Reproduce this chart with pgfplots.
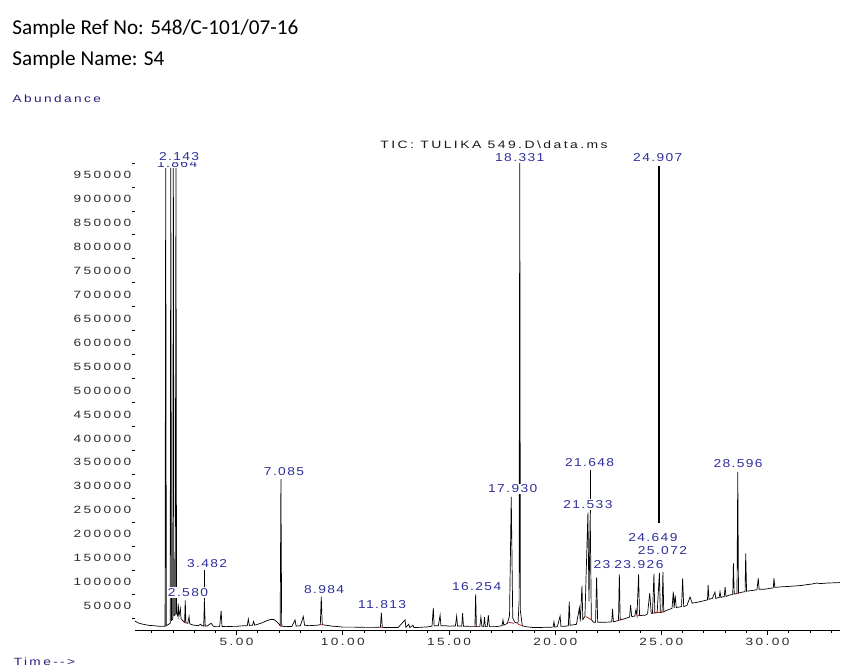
\documentclass[border=0pt]{standalone}
\usepackage{fontspec}
\usepackage{pgfplots}
\pgfplotsset{compat=1.18}
\setmainfont{Liberation Sans}
\newfontfamily\hdrfont{Carlito}
\newfontfamily\agfont[FakeStretch=1.3,LetterSpace=23]{Liberation Sans}
\newfontfamily\pkfont[FakeStretch=1.2,LetterSpace=12]{Liberation Sans}
\newcommand\tkf{\agfont\fontsize{5.25}{6}\selectfont}
\definecolor{pkblue}{RGB}{48,48,160}
\definecolor{axblue}{RGB}{45,30,120}
\definecolor{tkcol}{RGB}{50,40,40}
\definecolor{intred}{RGB}{190,30,30}
\tikzset{lbl/.style={font=\pkfont\fontsize{5.75}{6.5}\selectfont, text=pkblue, fill=white, inner sep=0.6pt}}
\begin{document}
\begin{tikzpicture}
\path[use as bounding box] (0,0) rectangle (420.5pt,333.5pt);
\node[anchor=base west, inner sep=0pt, font=\hdrfont\fontsize{10.6}{13}\selectfont] at (6pt,316.3pt) {Sample Ref No: 548/C-101/07-16};
\node[anchor=base west, inner sep=0pt, font=\hdrfont\fontsize{10.6}{13}\selectfont] at (6pt,300.6pt) {Sample Name: S4};
\node[anchor=base west, inner sep=0pt, font=\agfont\fontsize{5.25}{6}\selectfont, text=axblue] at (6.15pt,282.2pt) {Abundance};
\node[anchor=base west, inner sep=0pt, font=\agfont\fontsize{5.25}{6}\selectfont, text=axblue] at (6.7pt,0.6pt) {Time-{}-{}>};
\node[anchor=base, inner sep=0pt, font=\agfont\fontsize{5.35}{6}\selectfont, text=black!90] at (247pt,259.35pt) {TIC: TULIKA 549.D\textbackslash data.ms};
\begin{axis}[
  at={(67.35pt,18.5pt)}, anchor=south west,
  scale only axis, width=352.55pt, height=239.45pt,
  xmin=0.2, xmax=33.4, ymin=0, ymax=1000000,
  axis x line*=bottom, axis y line*=left,
  y axis line style={draw=none},
  x axis line style={line width=0.4pt},
  clip=false,
  tick align=outside,
  major tick length=2.5pt, minor tick length=1.5pt,
  every tick/.style={black, line width=0.4pt},
  major y tick style={draw=none},
  scaled y ticks=false, scaled x ticks=false,
  /pgf/number format/assume math mode=true,
  xtick={5,10,15,20,25,30},
  xticklabel={\tkf\pgfmathprintnumber[fixed,fixed zerofill,precision=2]{\tick}},
  minor xtick={1,2,3,4,6,7,8,9,11,12,13,14,16,17,18,19,21,22,23,24,26,27,28,29,31,32,33},
  ytick={50000,100000,150000,200000,250000,300000,350000,400000,450000,500000,550000,600000,650000,700000,750000,800000,850000,900000,950000},
  yticklabel={\tkf\pgfmathprintnumber[fixed,precision=0,1000 sep={}]{\tick}},
  minor ytick={25000,75000,125000,175000,225000,275000,325000,375000,425000,475000,525000,575000,625000,675000,725000,775000,825000,875000,925000,975000},
  every tick label/.append style={font=\tkf, text=tkcol},
  yticklabel style={inner sep=0pt, xshift=1pt},
  xticklabel style={inner sep=0pt, yshift=-1.5pt},
  unbounded coords=jump,
]
\addplot[black, line width=0.35pt] coordinates {
(0.20,19000)(0.35,15000)(0.5,13000)(0.7,11000)(0.9,9500)(1.1,9000)(1.3,8000)(1.5,7500)(1.6,7800)
(1.63,7800)(1.66,975000)(1.69,9000)(1.80,12000)(1.87,14000)(1.90,975000)(1.93,20000)(1.99,22000)
(2.02,975000)(2.05,30000)(2.11,32000)(2.143,975000)(2.17,35000)(2.22,30000)(2.25,55000)(2.28,28000)
(2.35,45000)(2.38,24000)(2.45,20000)(2.55,16000)(2.58,62000)(2.61,15000)(2.70,14000)(2.76,28000)
(2.79,13000)(2.9,11000)(3.0,10000)(3.2,9000)(3.3,12000)(3.35,9000)(3.45,8500)(3.482,62000)(3.52,8500)
(3.6,8000)(3.8,14000)(3.9,8000)(4.0,7000)(4.2,7000)(4.27,40000)(4.31,7500)(4.5,7000)(4.8,7500)(5.0,7500)
(5.2,8500)(5.4,9000)(5.5,9000)(5.55,23000)(5.6,9500)(5.75,10000)(5.8,18000)(5.85,10000)(6.0,12000)
(6.2,15000)(6.4,19000)(6.6,22000)(6.75,22000)(6.9,17000)(7.0,12000)(7.05,9000)(7.085,315000)(7.12,8000)
(7.3,7000)(7.6,7500)(7.75,21000)(7.8,8000)(8.0,9000)(8.14,28000)(8.2,10000)(8.4,9000)(8.6,9500)(8.8,10000)
(8.94,11000)(8.984,69500)(9.03,11000)(9.2,10000)(9.5,8000)(9.8,7000)(10.0,6000)(10.5,6000)(11.0,5500)
(11.5,5500)(11.77,6000)(11.813,36000)(11.86,5500)(12.2,5000)(12.6,5000)(12.93,21000)(12.97,5500)
(13.1,12000)(13.15,5000)(13.3,10000)(13.35,5000)(13.6,5500)(14.0,6500)(14.2,8000)(14.26,46000)(14.3,9000)
(14.5,9000)(14.58,31000)(14.62,9000)(14.8,9000)(15.0,8000)(15.3,8500)(15.36,29000)(15.4,8500)(15.6,8000)
(15.64,35000)(15.68,8000)(16.0,7500)(16.22,7500)(16.254,74500)(16.29,7000)(16.45,7000)(16.5,27000)
(16.55,7000)(16.63,7000)(16.67,27000)(16.71,7000)(16.8,7000)(16.85,31000)(16.9,7000)(17.2,7000)(17.5,9000)
(17.54,21000)(17.58,10000)(17.75,14000)(17.85,30000)(17.93,278000)(18.0,25000)(18.1,16000)(18.25,14000)
(18.3,60000)(18.331,975000)(18.36,40000)(18.45,9000)(18.6,7000)(19.0,5000)(19.5,5500)(19.9,6000)
(19.94,17000)(19.98,6000)(20.1,7000)(20.23,29000)(20.27,7500)(20.5,8000)(20.62,9000)(20.66,59000)
(20.7,10000)(20.9,11000)(21.0,12000)(21.14,46500)(21.18,18000)(21.26,92000)(21.3,22000)(21.4,28000)
(21.54,245000)(21.59,60000)(21.648,245000)(21.7,22000)(21.8,16000)(21.9,16000)(21.95,110000)(22.0,16000)
(22.2,16000)(22.5,16500)(22.66,17000)(22.7,44000)(22.74,17000)(22.9,19000)(22.98,20000)(23.02,116000)
(23.06,21000)(23.3,24000)(23.5,27000)(23.55,52000)(23.6,28000)(23.75,29000)(23.8,42000)(23.85,30000)
(23.926,116000)(23.97,30000)(24.1,30500)(24.25,31000)(24.35,34000)(24.45,77000)(24.52,35000)(24.58,35000)
(24.649,117000)(24.69,36000)(24.8,36000)(24.907,119000)(24.95,36000)(25.03,37000)(25.072,121000)
(25.11,38000)(25.3,42000)(25.5,45000)(25.56,80000)(25.6,46000)(25.65,72000)(25.7,47000)(25.85,48000)
(25.95,49000)(26.0,108000)(26.05,49000)(26.2,51000)(26.35,69000)(26.45,56000)(26.7,58000)(27.0,61000)
(27.17,63000)(27.2,94000)(27.24,64000)(27.4,66000)(27.52,79000)(27.56,66000)(27.72,68000)(27.76,80000)
(27.8,68000)(27.96,70000)(28.0,90000)(28.04,70000)(28.2,73000)(28.36,74000)(28.39,139000)(28.43,75000)
(28.56,76000)(28.596,330000)(28.63,77000)(28.8,79000)(28.94,80000)(28.97,160000)(29.01,81000)(29.2,82000)
(29.5,84000)(29.56,108000)(29.6,85000)(29.8,85000)(30.0,86000)(30.1,87000)(30.27,88000)(30.3,108000)
(30.34,89000)(30.6,90000)(31.0,91000)(31.3,92000)(31.6,93000)(31.9,95000)(32.1,96000)(32.3,98000)
(32.5,97000)(32.8,98000)(33.1,98500)(33.4,99000)
};
% integration baselines
\addplot[intred, line width=0.4pt] coordinates {
(2.52,16000)(2.64,15000)(2.64,nan)
(3.44,8500)(3.53,8500)(3.53,nan)
(7.03,9000)(7.14,8000)(7.14,nan)
(8.93,11000)(9.05,11000)(9.05,nan)
(11.76,6000)(11.87,5500)(11.87,nan)
(16.21,7500)(16.30,7000)(16.30,nan)
(17.80,16000)(18.05,14000)(18.05,nan)
(18.25,12000)(18.45,9000)(18.45,nan)
(21.45,28000)(21.75,20000)(21.75,nan)
(22.97,20000)(23.07,21000)(23.07,nan)
(23.88,30000)(23.98,30000)(23.98,nan)
(24.58,35000)(25.12,38000)(25.12,nan)
(28.54,76000)(28.65,77000)
};
% leader lines
\addplot[black, line width=0.4pt] coordinates {(3.482,62000)(3.482,125000)};
\addplot[black, line width=0.4pt] coordinates {(21.648,245000)(21.648,334000)};
\addplot[black, line width=1pt] coordinates {(24.907,223000)(24.907,968000)};
% peak labels
\node[lbl] at (axis cs:2.20,975000) {1.864};
\node[lbl] at (axis cs:2.29,988000) {2.143};
\node[lbl] at (axis cs:2.71,78700) {2.580};
\node[lbl] at (axis cs:3.61,137800) {3.482};
\node[lbl] at (axis cs:7.23,330500) {7.085};
\node[lbl] at (axis cs:9.12,85000) {8.984};
\node[lbl] at (axis cs:11.85,53700) {11.813};
\node[lbl] at (axis cs:16.30,90400) {16.254};
\node[lbl] at (axis cs:18.0,294400) {17.930};
\node[lbl] at (axis cs:18.33,987000) {18.331};
\node[lbl] at (axis cs:21.62,350000) {21.648};
\node[lbl] at (axis cs:21.54,262400) {21.533};
\node[lbl] at (axis cs:22.96,135700) {23.022};
\node[lbl] at (axis cs:23.94,135700) {23.926};
\node[lbl] at (axis cs:24.60,193600) {24.649};
\node[lbl] at (axis cs:25.05,165600) {25.072};
\node[lbl] at (axis cs:24.83,987000) {24.907};
\node[lbl] at (axis cs:28.61,348000) {28.596};
\end{axis}
\end{tikzpicture}
\end{document}
